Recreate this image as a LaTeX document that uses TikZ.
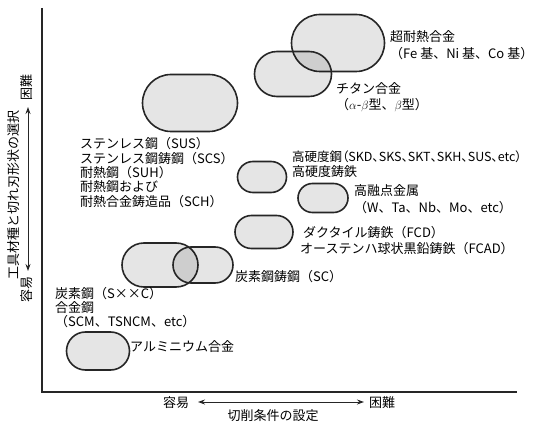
\documentclass[tikz,border=0pt]{standalone}
\usepackage{fontspec}
\setmainfont{Noto Sans CJK JP}
\newfontfamily\jpprop[RawFeature=+palt]{Noto Sans CJK JP}
\usetikzlibrary{arrows.meta}
\begin{document}
\begin{tikzpicture}[x=1pt,y=-1pt,
  oval/.style={draw=black!85, line width=1.6pt, fill=black, fill opacity=0.1, inner sep=0pt},
  lbl/.style={anchor=base west, inner sep=0pt, align=left, font=\fontsize{13}{#1}\selectfont},
  lbl/.default=14.5,
  axlbl/.style={inner sep=0pt, font=\fontsize{13}{13}\selectfont},
  axis/.style={line width=1.8pt, draw=black!85},
  dbl/.style={{Stealth[length=7pt,width=5pt]}-{Stealth[length=7pt,width=5pt]}, line width=0.9pt, draw=black!85}]
\useasboundingbox (0,0) rectangle (536,425);
% axes
\coordinate (ytop) at (42,8);
\coordinate (orig) at (42,392);
\coordinate (xend) at (517,392);
\draw[axis] (ytop) -- (orig) -- (xend);
% ovals
\node[oval, minimum width=93pt, minimum height=57pt, rounded corners=28.5pt] (sup) at (338,43) {};
\node[oval, minimum width=77pt, minimum height=45pt, rounded corners=22.5pt] (ti) at (293,74) {};
\node[oval, minimum width=95pt, minimum height=57pt, rounded corners=28.5pt] (sus) at (190,103) {};
\node[oval, minimum width=49pt, minimum height=31pt, rounded corners=15.5pt] (hard) at (262,177) {};
\node[oval, minimum width=50pt, minimum height=29pt, rounded corners=14.5pt] (refr) at (323,198) {};
\node[oval, minimum width=58pt, minimum height=33pt, rounded corners=16.5pt] (duct) at (264,232) {};
\node[oval, minimum width=76pt, minimum height=44pt, rounded corners=22pt] (carb) at (160,265) {};
\node[oval, minimum width=60pt, minimum height=36pt, rounded corners=18pt] (sc) at (203,265) {};
\node[oval, minimum width=63pt, minimum height=38pt, rounded corners=19pt] (alu) at (98,351) {};
% labels (anchor = baseline of last line)
\node[lbl=17] (lsup) at (390,58.5) {超耐熱合金\\（Fe 基、Ni 基、Co 基）};
\node[lbl=16] (lti) at (336,109.5) {チタン合金\\（$\alpha$-$\beta$型、$\beta$型）};
\node[lbl] (lsus) at (80,206.5) {ステンレス鋼（SUS）\\ステンレス鋼鋳鋼（SCS）\\耐熱鋼（SUH）\\耐熱鋼および\\耐熱合金鋳造品（SCH）};
\node[lbl=15] (lhard) at (292,176.5) {{\jpprop\fontsize{12.5}{15}\selectfont 高硬度鋼（SKD、SKS、SKT、SKH、SUS、etc）}\\高硬度鋳鉄};
\node[lbl=17] (lrefr) at (354,212.5) {高融点金属\\（W、Ta、Nb、Mo、etc）};
\node[lbl=16] (lduct) at (300,253.5) {\hspace{3pt}ダクタイル鋳鉄（FCD）\\オーステンハ球状黒鉛鋳鉄（FCAD）};
\node[lbl] (lsc) at (235,281) {炭素鋼鋳鋼（SC）};
\node[lbl=14] (lcarb) at (55,326.5) {炭素鋼（S××C）\\合金鋼\\（SCM、TSNCM、etc）};
\node[lbl] (lalu) at (130,351) {アルミニウム合金};
% y axis label
\node[axlbl, rotate=90] (ylab) at (14,195) {工具材種と切れ刃形状の選択};
\node[axlbl, rotate=90] (yhard) at (27,88) {困難};
\node[axlbl, rotate=90] (yeasy) at (27,289) {容易};
\coordinate (ya1) at (28,107);
\coordinate (ya2) at (28,271);
\draw[dbl] (ya2) -- (ya1);
% x axis label
\node[axlbl] (xeasy) at (176,403) {容易};
\node[axlbl] (xhard) at (382,403) {困難};
\node[axlbl] (xlab) at (273,416) {切削条件の設定};
\coordinate (xa1) at (198,402);
\coordinate (xa2) at (364,402);
\draw[dbl] (xa1) -- (xa2);
\end{tikzpicture}
\end{document}
